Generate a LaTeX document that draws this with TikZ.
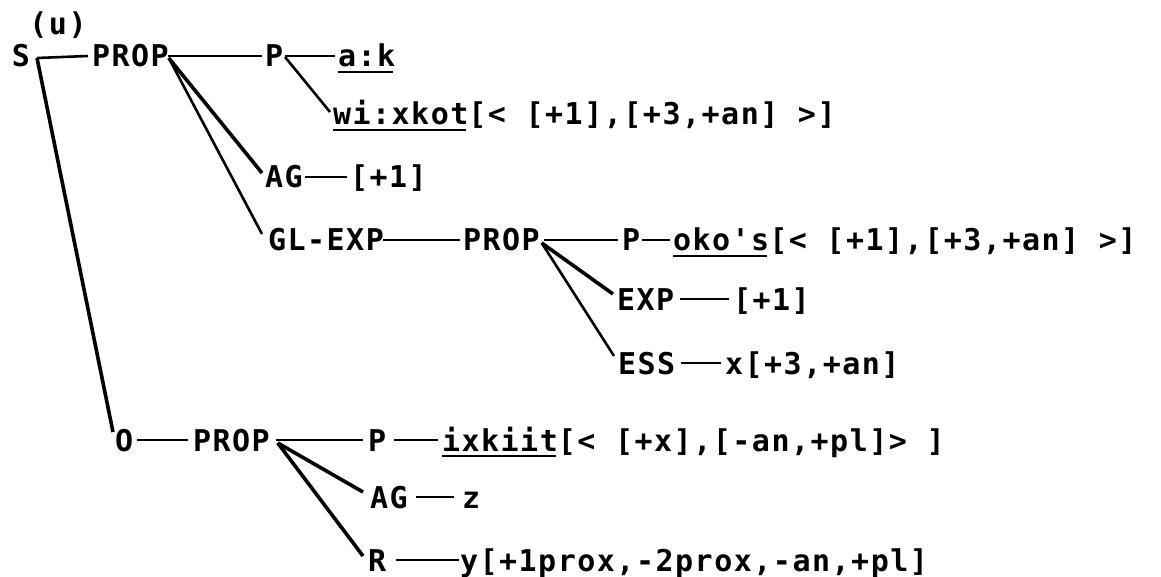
\documentclass[tikz,border=0pt]{standalone}
\usepackage{fontspec}
\newfontfamily\tw[LetterSpace=5]{DejaVu Sans Mono}
\begin{document}
\begin{tikzpicture}[x=1pt,y=-1pt,
  lab/.style={inner sep=0pt,outer sep=0pt,anchor=west,font=\tw\bfseries\fontsize{30}{32}\selectfont,text height=22pt,text depth=0pt},
  ln/.style={line width=2.6pt},
  lnt/.style={line width=3.6pt},
  ul/.style={line width=2.6pt}]
\useasboundingbox (0,0) rectangle (1161,577);
% row 1
\node[lab] (s) at (12,56) {S};
\node[lab,anchor=center] (u) at (58,24) {(u)};
\node[lab] (prop1) at (92,56) {PROP};
\node[lab] (p1) at (265,56) {P};
\node[lab] (ak) at (338,56) {a:k};
% row 2
\node[lab] (wi) at (333,114) {wi:xkot};
\node[lab] (wir) at (wi.east) {[< [+1],[+3,+an] >]};
% row 3
\node[lab] (ag1) at (265,177) {AG};
\node[lab] (ag1v) at (350,177) {[+1]};
% row 4
\node[lab] (gl) at (268,240) {GL-EXP};
\node[lab] (prop2) at (463,240) {PROP};
\node[lab] (p2) at (622,240) {P};
\node[lab] (oko) at (673,240) {oko's};
\node[lab] (okor) at (oko.east) {[< [+1],[+3,+an] >]};
% row 5, 6
\node[lab] (exp) at (617,299) {EXP};
\node[lab] (expv) at (733,299) {[+1]};
\node[lab] (ess) at (618,363) {ESS};
\node[lab] (essv) at (725,363) {x[+3,+an]};
% row 7
\node[lab] (o) at (115,440) {O};
\node[lab] (prop3) at (193,440) {PROP};
\node[lab] (p3) at (368,440) {P};
\node[lab] (ix) at (442,440) {ixkiit};
\node[lab] (ixr) at (ix.east) {[< [+x],[-an,+pl]> ]};
% row 8, 9
\node[lab] (ag3) at (370,497) {AG};
\node[lab] (z) at (462,497) {z};
\node[lab] (r) at (368,560) {R};
\node[lab] (rv) at (460,560) {y[+1prox,-2prox,-an,+pl]};
% junction at S
\coordinate (sj) at (37,58);
% connectors
\draw[ln] (sj) -- ([xshift=-4pt]prop1.west);
\draw[lnt] (sj) -- ([shift={(-2,-8)}]o.west);
\draw[ln] ([xshift=-1pt]prop1.east) -- ([xshift=-3pt]p1.west);
\draw[ln] ([xshift=2pt]p1.east) -- ([xshift=-3pt]ak.west);
\draw[ln] ([shift={(2,1)}]p1.east) -- ([shift={(-3,-2)}]wi.west);
\draw[lnt] ([shift={(0,2)}]prop1.east) -- ([shift={(-3,-4)}]ag1.west);
\draw[ln] ([shift={(0,2)}]prop1.east) -- ([shift={(-6,-6)}]gl.west);
\draw[ln] ([xshift=2pt]ag1.east) -- ([xshift=-3pt]ag1v.west);
\draw[ln] ([xshift=-1pt]gl.east) -- ([xshift=-3pt]prop2.west);
\draw[ln] ([xshift=4pt]prop2.east) -- ([xshift=-4pt]p2.west);
\draw[ln] ([xshift=2pt]p2.east) -- ([xshift=-3pt]oko.west);
\draw[lnt] ([shift={(2,3)}]prop2.east) -- ([shift={(-4,-5)}]exp.west);
\draw[ln] ([shift={(2,3)}]prop2.east) -- ([shift={(-4,-7)}]ess.west);
\draw[ln] ([xshift=6pt]exp.east) -- ([xshift=-4pt]expv.west);
\draw[ln] ([xshift=6pt]ess.east) -- ([xshift=-4pt]essv.west);
\draw[ln] ([xshift=4pt]o.east) -- ([xshift=-5pt]prop3.west);
\draw[ln] ([xshift=6pt]prop3.east) -- ([xshift=-5pt]p3.west);
\draw[ln] ([xshift=8pt]p3.east) -- ([xshift=-4pt]ix.west);
\draw[lnt] ([shift={(8,3)}]prop3.east) -- ([shift={(-7,-5)}]ag3.west);
\draw[lnt] ([shift={(8,3)}]prop3.east) -- ([shift={(-5,-4)}]r.west);
\draw[ln] ([xshift=8pt]ag3.east) -- ([xshift=-8pt]z.west);
\draw[ln] ([xshift=10pt]r.east) -- ([xshift=-1pt]rv.west);
% underlines
\draw[ul] ([yshift=-5pt]ak.south west) -- ([shift={(-2,5)}]ak.south east);
\draw[ul] ([yshift=-5pt]wi.south west) -- ([shift={(-2,5)}]wi.south east);
\draw[ul] ([yshift=-5pt]oko.south west) -- ([shift={(-2,5)}]oko.south east);
\draw[ul] ([yshift=-5pt]ix.south west) -- ([shift={(-2,5)}]ix.south east);
\end{tikzpicture}
\end{document}
